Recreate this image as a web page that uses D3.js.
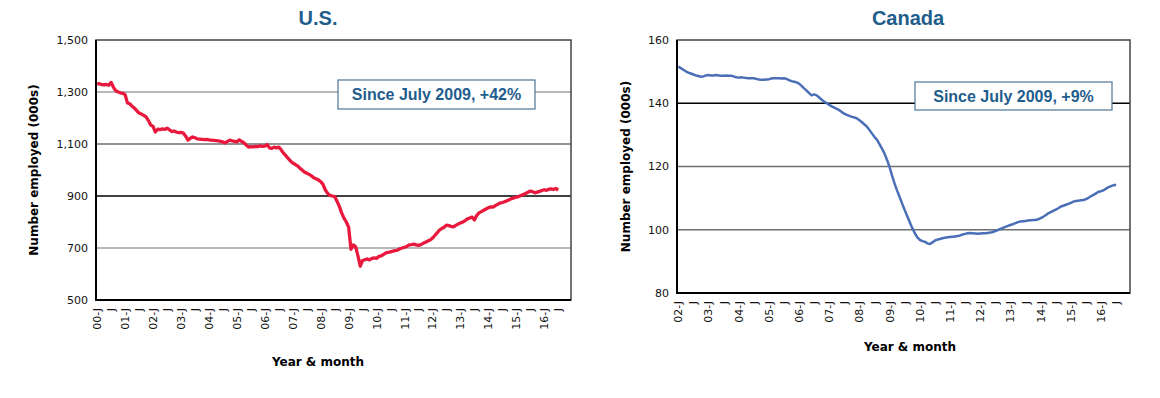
<!DOCTYPE html>
<html>
<head>
<meta charset="utf-8">
<script src="https://cdn.jsdelivr.net/npm/d3@7"></script>
<style>
  body { margin: 0; background: #fff; }
  svg { display: block; }
  .tick-label { font-family: "DejaVu Sans", sans-serif; font-size: 11px; fill: #111; }
  .axis-title { font-family: "DejaVu Sans", sans-serif; font-size: 12px; font-weight: bold; fill: #000; }
  .chart-title { font-family: "Liberation Sans", Arial, sans-serif; font-size: 20px; font-weight: bold; fill: #1f5d8c; }
  .note { font-family: "Liberation Sans", Arial, sans-serif; font-size: 16px; font-weight: bold; fill: #1f5d8c; }
</style>
</head>
<body>
<script>
// monthly employment (000s), U.S. from Jan 2000, Canada from Jan 2002
var usStartYear = 2000,
    caStartYear = 2002;

var usValues = [
    1330, 1332, 1328, 1327, 1329, 1326, 1337, 1318, 1305, 1300, 1297, 1295,
    1290, 1258, 1255, 1245, 1238, 1228, 1219, 1215, 1210, 1204, 1190, 1173,
    1168, 1146, 1157, 1155, 1158, 1156, 1161, 1155, 1148, 1150, 1146, 1144,
    1145, 1142, 1130, 1115, 1122, 1127, 1124, 1120, 1119, 1118, 1117, 1118,
    1116, 1115, 1114, 1113, 1112, 1110, 1108, 1104, 1110, 1115, 1112, 1110,
    1108, 1116, 1110, 1105, 1096, 1088, 1090, 1089, 1091, 1090, 1093, 1091,
    1092, 1098, 1085, 1083, 1088, 1085, 1088, 1078, 1065, 1055, 1045, 1035,
    1027, 1022, 1016, 1008, 1000, 992, 988, 983, 978, 970, 966, 962,
    955, 945, 923, 910, 902, 900, 898, 880, 860, 835, 815, 800,
    780, 695, 712, 705, 670, 630, 652, 655, 658, 654, 660, 662,
    660, 668, 670, 675, 681, 683, 685, 688, 690, 692, 697, 700,
    703, 706, 712, 713, 715, 712, 710, 713, 718, 722, 727, 731,
    738, 748, 758, 769, 775, 780, 788, 786, 783, 781, 787, 792,
    796, 800, 805, 812, 815, 819, 808, 825, 835, 840, 845, 850,
    855, 858, 857, 863, 868, 873, 875, 878, 882, 886, 890, 893,
    896, 898, 902, 906, 910, 914, 919, 917, 912, 915, 918, 921,
    924, 922, 926, 927, 925, 929, 923
];

var caValues = [
    151.6, 151.1, 150.6, 150.1, 149.7, 149.4, 149.1, 148.8, 148.6, 148.4, 148.5, 148.8,
    148.9, 148.8, 148.8, 148.9, 148.8, 148.7, 148.7, 148.8, 148.7, 148.7, 148.5, 148.2,
    148.1, 148.2, 148.1, 148.0, 147.9, 147.9, 147.9, 147.7, 147.5, 147.4, 147.4, 147.5,
    147.6, 147.8, 147.9, 147.9, 147.9, 147.8, 147.9, 147.7, 147.3, 147.0, 146.8, 146.6,
    146.2, 145.5, 144.7, 144.0, 143.2, 142.5, 142.8, 142.5, 141.8, 141.1, 140.5, 140.0,
    139.5, 139.0, 138.6, 138.2, 137.8, 137.2, 136.7, 136.3, 136.0, 135.7, 135.5, 135.2,
    134.6, 134.0, 133.3, 132.6, 131.5, 130.4, 129.3, 128.4, 127.0, 125.6, 124.0, 122.0,
    119.7, 117.0, 114.5, 112.3, 110.3, 108.2, 106.2, 104.3, 102.4, 100.5, 98.9, 97.6,
    96.8, 96.4, 96.2, 95.7, 95.5, 96.0, 96.6, 96.9, 97.1, 97.3, 97.5, 97.6,
    97.7, 97.8, 97.9, 98.0, 98.2, 98.5, 98.7, 98.9, 99.0, 98.9, 98.8, 98.7,
    98.8, 98.9, 98.9, 99.0, 99.1, 99.3, 99.6, 99.9, 100.3, 100.6, 100.9, 101.2,
    101.5, 101.8, 102.1, 102.4, 102.6, 102.7, 102.8, 102.9, 103.0, 103.1, 103.1, 103.3,
    103.7, 104.1, 104.6, 105.2, 105.6, 106.0, 106.4, 106.8, 107.3, 107.6, 107.9, 108.2,
    108.5, 108.9, 109.1, 109.2, 109.3, 109.4, 109.7, 110.1, 110.6, 111.0, 111.5, 112.0,
    112.2, 112.5, 113.0, 113.5, 113.8, 114.1, 114.2
];

var usYTicks = [500, 700, 900, 1100, 1300, 1500],
    caYTicks = [80, 100, 120, 140, 160];

var usNote = 'Since July 2009, +42%',
    caNote = 'Since July 2009, +9%';

var svg = d3.select('body').append('svg')
    .attr('width', 1160)
    .attr('height', 398);

function drawPanel(cfg) {
    var months = (2016 - cfg.startYear + 1) * 12;

    var x = d3.scaleLinear().domain([0, months]).range([cfg.left, cfg.right]),
        y = d3.scaleLinear().domain(cfg.yDomain).range([cfg.bottom, cfg.top]);

    var g = svg.append('g');

    // gridlines
    g.selectAll('.grid')
        .data(cfg.yTicks.slice(1, -1))
        .enter().append('line')
        .attr('x1', cfg.left).attr('x2', cfg.right)
        .attr('y1', function(d) { return y(d); })
        .attr('y2', function(d) { return y(d); })
        .attr('stroke', function(d) { return cfg.gridColor(d); })
        .attr('stroke-width', 1.5);

    // frame
    g.append('rect')
        .attr('x', cfg.left).attr('y', cfg.top)
        .attr('width', cfg.right - cfg.left)
        .attr('height', cfg.bottom - cfg.top)
        .attr('fill', 'none')
        .attr('stroke', '#444')
        .attr('stroke-width', 1.5);

    g.append('path')
        .attr('d', 'M' + cfg.left + ',' + cfg.top + 'V' + cfg.bottom + 'H' + cfg.right)
        .attr('fill', 'none')
        .attr('stroke', '#000')
        .attr('stroke-width', 2);

    // y tick labels
    g.selectAll('.ylab')
        .data(cfg.yTicks)
        .enter().append('text')
        .attr('class', 'tick-label')
        .attr('x', cfg.left - 8)
        .attr('y', function(d) { return y(d); })
        .attr('dy', '0.35em')
        .attr('text-anchor', 'end')
        .text(d3.format(','));

    // x tick labels every six months
    var xt = d3.range(0, months, 6);
    g.selectAll('.xlab')
        .data(xt)
        .enter().append('text')
        .attr('class', 'tick-label')
        .attr('transform', function(d) {
            return 'translate(' + (x(d + 0.5) + 4) + ',' + (cfg.bottom + 8) + ') rotate(-90)';
        })
        .attr('text-anchor', 'end')
        .text(function(d) {
            if (d % 12) return 'J';
            var yr = cfg.startYear + d / 12;
            return d3.format('02d')(yr % 100) + '-J';
        });

    // series
    var line = d3.line()
        .x(function(d, i) { return x(i + 0.5); })
        .y(function(d) { return y(d); });

    g.append('path')
        .datum(cfg.values)
        .attr('d', line)
        .attr('fill', 'none')
        .attr('stroke', cfg.color)
        .attr('stroke-width', cfg.lineWidth)
        .attr('stroke-linejoin', 'round');

    // note box
    var nb = cfg.noteBox;
    g.append('rect')
        .attr('x', nb[0]).attr('y', nb[1])
        .attr('width', nb[2]).attr('height', nb[3])
        .attr('fill', '#fff')
        .attr('stroke', '#4f7393')
        .attr('stroke-width', 1.2);
    g.append('text')
        .attr('class', 'note')
        .attr('x', nb[0] + nb[2] / 2)
        .attr('y', nb[1] + nb[3] / 2)
        .attr('dy', '0.36em')
        .attr('text-anchor', 'middle')
        .text(cfg.note);

    // titles
    g.append('text')
        .attr('class', 'chart-title')
        .attr('x', cfg.titleX).attr('y', 25)
        .attr('text-anchor', 'middle')
        .text(cfg.title);

    g.append('text')
        .attr('class', 'axis-title')
        .attr('transform', 'translate(' + cfg.yTitleX + ',' + ((cfg.top + cfg.bottom) / 2) + ') rotate(-90)')
        .attr('text-anchor', 'middle')
        .text('Number employed (000s)');

    g.append('text')
        .attr('class', 'axis-title')
        .attr('x', cfg.xTitle[0]).attr('y', cfg.xTitle[1])
        .attr('text-anchor', 'middle')
        .text('Year & month');
}

drawPanel({
    title: 'U.S.', titleX: 318,
    startYear: usStartYear, values: usValues,
    yTicks: usYTicks, yDomain: [500, 1500],
    left: 96, right: 571, top: 40, bottom: 300,
    color: '#e8193c', lineWidth: 3.3,
    gridColor: function(d) { return d === 900 ? '#000' : d === 1100 ? '#6f6f6f' : '#a0a0a0'; },
    note: usNote, noteBox: [338, 80, 197, 29],
    yTitleX: 38, xTitle: [318, 366]
});

drawPanel({
    title: 'Canada', titleX: 908,
    startYear: caStartYear, values: caValues,
    yTicks: caYTicks, yDomain: [80, 160],
    left: 677, right: 1130, top: 40, bottom: 293,
    color: '#4a6fb6', lineWidth: 2.5,
    gridColor: function(d) { return d === 140 ? '#000' : '#6f6f6f'; },
    note: caNote, noteBox: [915, 82, 197, 28],
    yTitleX: 630, xTitle: [910, 351]
});
</script>
</body>
</html>
